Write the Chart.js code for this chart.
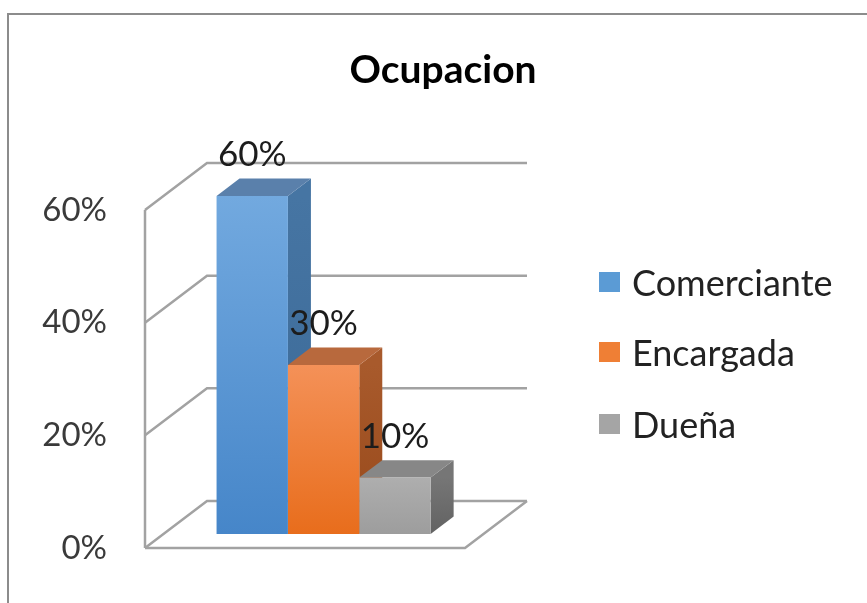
<!DOCTYPE html>
<html>
<head>
<meta charset="utf-8">
<script src="https://cdn.jsdelivr.net/npm/chart.js@4.4.0/dist/chart.umd.min.js"></script>
<style>
html,body{margin:0;padding:0;background:#ffffff;overflow:hidden}
#wrap{position:relative;width:867px;height:603px}
canvas{display:block;position:absolute;left:0;top:0}
#legend{position:absolute;left:0;top:0;width:867px;height:603px;pointer-events:none}
.item{position:absolute;left:599px;height:40px;display:flex;align-items:center;white-space:nowrap;
  font-family:Lato,sans-serif;font-size:36px;color:#222222}
.box{width:21px;height:20px;margin-right:12px;flex:none}
</style>
</head>
<body>
<div id="wrap">
<canvas id="c" width="867" height="603"></canvas>
<div id="legend"></div>
</div>
<script>
// ---- data ----
const categories = [''];
const seriesNames = ['Comerciante', 'Encargada', 'Dueña'];
const comerciante = [60];
const encargada = [30];
const duena = [10];
const yTickValues = [0, 20, 40, 60];
const chartTitle = 'Ocupacion';

// ---- style ----
const FONT = 'Lato';
const frontTop = ['#72a9df', '#f49158', '#aeaeae'];
const frontBottom = ['#4686c9', '#e86d1c', '#9d9d9d'];
const sideTop = ['#4675a3', '#a85a2c', '#767676'];
const sideBottom = ['#3a6896', '#98491a', '#626262'];
const topFaces = ['#5a80ab', '#b8693d', '#878787'];
const legendColors = ['#5b9bd5', '#ef7f35', '#a5a5a5'];
const gridColor = '#a2a2a2';

// 3D geometry (pixels)
const OX = 18.6, OY = -14.1;   // bar plane offset from front plane
const WX = 62, WY = -47;       // wall depth
const BX = 23, BY = -17.4;     // bar depth
const PLOT_RIGHT = 465;
const legendTops = [273, 343, 415];

function frontFill(i) {
  return (c) => {
    const chart = c.chart, y = chart.scales && chart.scales.y;
    if (!chart.chartArea || !y || !c.parsed) return frontBottom[i];
    const top = y.getPixelForValue(c.parsed.y);
    const bottom = y.getPixelForValue(0);
    const g = chart.ctx.createLinearGradient(0, top, 0, bottom);
    g.addColorStop(0, frontTop[i]);
    g.addColorStop(1, frontBottom[i]);
    return g;
  };
}

const threeD = {
  id: 'threeD',
  beforeDraw(chart) {
    const ctx = chart.ctx;
    ctx.save();
    ctx.strokeStyle = '#8c8c8c';
    ctx.lineWidth = 2;
    ctx.beginPath();
    ctx.moveTo(8, 603);
    ctx.lineTo(8, 14);
    ctx.lineTo(867, 14);
    ctx.stroke();
    ctx.restore();
  },
  beforeDatasetsDraw(chart) {
    const ctx = chart.ctx;
    const L = chart.chartArea.left, R = chart.chartArea.right;
    const y = chart.scales.y;
    const p0 = y.getPixelForValue(0);
    const pTop = y.getPixelForValue(yTickValues[yTickValues.length - 1]);
    ctx.save();
    ctx.strokeStyle = gridColor;
    ctx.lineWidth = 2.5;
    ctx.lineJoin = 'miter';
    yTickValues.forEach(v => {
      const py = y.getPixelForValue(v);
      ctx.beginPath();
      ctx.moveTo(L, py);
      ctx.lineTo(L + WX, py + WY);
      ctx.lineTo(R + WX, py + WY);
      ctx.stroke();
    });
    ctx.beginPath();
    ctx.moveTo(L, p0);
    ctx.lineTo(R, p0);
    ctx.lineTo(R + WX, p0 + WY);
    ctx.stroke();
    ctx.beginPath();
    ctx.moveTo(L, pTop);
    ctx.lineTo(L, p0);
    ctx.stroke();

    chart.data.datasets.forEach((ds, i) => {
      const el = chart.getDatasetMeta(i).data[0];
      if (!el) return;
      const p = el.getProps(['x', 'y', 'base', 'width'], true);
      const l = p.x - p.width / 2 + OX, r = p.x + p.width / 2 + OX;
      const t = p.y + OY, b = p.base + OY;
      const sg = ctx.createLinearGradient(0, t, 0, b);
      sg.addColorStop(0, sideTop[i]);
      sg.addColorStop(1, sideBottom[i]);
      ctx.fillStyle = sg;
      ctx.beginPath();
      ctx.moveTo(r, t); ctx.lineTo(r + BX, t + BY); ctx.lineTo(r + BX, b + BY); ctx.lineTo(r, b);
      ctx.closePath(); ctx.fill();
      ctx.fillStyle = topFaces[i];
      ctx.beginPath();
      ctx.moveTo(l, t); ctx.lineTo(l + BX, t + BY); ctx.lineTo(r + BX, t + BY); ctx.lineTo(r, t);
      ctx.closePath(); ctx.fill();
    });
    ctx.translate(OX, OY);
  },
  afterDatasetsDraw(chart) {
    const ctx = chart.ctx;
    ctx.restore();
    ctx.save();
    ctx.font = '35px ' + FONT;
    ctx.fillStyle = '#1c1c1c';
    ctx.textAlign = 'center';
    ctx.textBaseline = 'middle';
    chart.data.datasets.forEach((ds, i) => {
      const el = chart.getDatasetMeta(i).data[0];
      if (!el) return;
      const p = el.getProps(['x', 'y'], true);
      ctx.fillText(ds.data[0] + '%', p.x + OX, p.y + OY - 41);
    });
    ctx.restore();
  }
};

const seriesValues = [comerciante, encargada, duena];

const chart = new Chart(document.getElementById('c'), {
  type: 'bar',
  data: {
    labels: categories,
    datasets: seriesNames.map((name, i) => ({
      label: name,
      data: seriesValues[i],
      backgroundColor: frontFill(i),
      borderWidth: 0,
      categoryPercentage: 0.669,
      barPercentage: 1
    }))
  },
  options: {
    responsive: false,
    animation: false,
    events: [],
    layout: { padding: { left: 19, top: 0, right: 0, bottom: 55 } },
    scales: {
      x: { display: false },
      y: {
        min: 0,
        max: 69,
        afterBuildTicks: s => { s.ticks = yTickValues.map(v => ({ value: v })); },
        afterFit: s => { s.width = 145 - 19; s.paddingTop = 0; s.paddingBottom = 0; },
        grid: { display: false, drawTicks: false },
        border: { display: false },
        ticks: {
          padding: 38,
          color: '#3a3a3a',
          font: { family: FONT, size: 33 },
          callback: v => v + '%'
        }
      },
      gap: {
        type: 'linear',
        position: 'right',
        display: true,
        grid: { display: false, drawTicks: false },
        border: { display: false },
        ticks: { display: false },
        afterFit: s => { s.width = 867 - PLOT_RIGHT; s.paddingTop = 0; s.paddingBottom = 0; }
      }
    },
    plugins: {
      tooltip: { enabled: false },
      legend: { display: false },
      title: {
        display: true,
        text: chartTitle,
        color: '#000000',
        font: { family: FONT, size: 39, weight: 'bold', lineHeight: 1.2 },
        padding: { top: 46.6, bottom: 66 }
      }
    }
  },
  plugins: [threeD]
});

// HTML legend built from the chart's datasets
const legendEl = document.getElementById('legend');
chart.data.datasets.forEach((ds, i) => {
  const row = document.createElement('div');
  row.className = 'item';
  row.style.top = (legendTops[i] - 11) + 'px';
  const box = document.createElement('span');
  box.className = 'box';
  box.style.background = legendColors[i];
  const txt = document.createElement('span');
  txt.textContent = ds.label;
  row.appendChild(box);
  row.appendChild(txt);
  legendEl.appendChild(row);
});
</script>
</body>
</html>
